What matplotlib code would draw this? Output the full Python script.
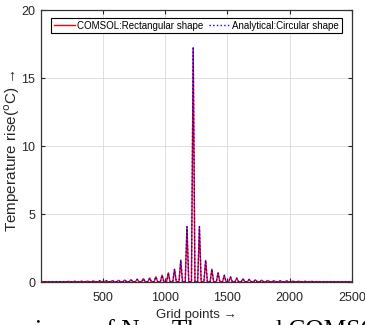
import numpy as np
import matplotlib.pyplot as plt

plt.rcParams['font.family'] = ['Liberation Sans', 'DejaVu Sans']

# peak positions (grid points) and heights
center = 1225
spacing = 50
center_h_comsol = 17.2
center_h_analytic = 17.3
side_h_left = [4.07, 1.62, 0.95, 0.68, 0.51, 0.39, 0.30, 0.25, 0.21, 0.18,
               0.15, 0.13, 0.11, 0.10, 0.09, 0.08, 0.07, 0.06, 0.05, 0.05]
side_h_right = [4.07, 1.60, 0.95, 0.67, 0.50, 0.38, 0.29, 0.24, 0.20, 0.17,
                0.14, 0.12, 0.10, 0.09, 0.08, 0.07, 0.06, 0.05, 0.05, 0.04]
base = 0.03
half_w = 14
x_start, x_end = 1, 2500


def build_curve(center_h):
    peaks = [(center - spacing * (i + 1), h) for i, h in enumerate(side_h_left)]
    peaks += [(center, center_h)]
    peaks += [(center + spacing * (i + 1), h) for i, h in enumerate(side_h_right)]
    peaks.sort()
    xs, ys = [x_start], [base]
    for p, h in peaks:
        xs += [p - half_w, p, p + half_w]
        ys += [base, h, base]
    xs.append(x_end)
    ys.append(base)
    return np.array(xs), np.array(ys)


xc, yc = build_curve(center_h_comsol)
xa, ya = build_curve(center_h_analytic)

fig = plt.figure(figsize=(3.65, 3.25), dpi=100)
ax = fig.add_axes([0.112, 0.132, 0.852, 0.837])

ax.plot(xc, yc, 'r-', lw=1.0, label='COMSOL:Rectangular shape')
ax.plot(xa, ya, color='b', ls=':', lw=1.0, label='Analytical:Circular shape')

ax.set_xlim(1, 2500)
ax.set_ylim(0, 20)
ax.set_xticks([500, 1000, 1500, 2000, 2500])
ax.set_yticks([0, 5, 10, 15, 20])
ax.grid(True, color='0.86', lw=0.6)
ax.set_axisbelow(True)
ax.tick_params(direction='in', labelsize=9, colors='0.15', length=3,
               right=True, top=True)
ax.tick_params(axis='x', pad=7)
ax.tick_params(axis='y', pad=4)
for s in ax.spines.values():
    s.set_color('0.2')
    s.set_linewidth(0.9)

ax.set_xlabel('Grid points \u2192', fontsize=9.5, labelpad=4, color='0.15')
ax.set_ylabel('Temperature rise($^\\mathrm{o}$C) \u2192', fontsize=11,
              color='0.15')
ax.yaxis.set_label_coords(-0.06, 0.485)

leg = ax.legend(loc='upper center', ncol=2, fontsize=7, fancybox=False,
                edgecolor='k', framealpha=1, handlelength=2.2,
                columnspacing=0.5, handletextpad=0.2, borderpad=0.3,
                bbox_to_anchor=(0.5, 0.99))
leg.get_frame().set_linewidth(0.8)

# caption cut off at the bottom of the image
fig.text(0.095, -0.037, 'isons of NumTherm and COMSOL', fontsize=18.3,
         family=['Liberation Serif', 'DejaVu Serif'], va='baseline', zorder=0)

fig.savefig('out.png', dpi=100)
